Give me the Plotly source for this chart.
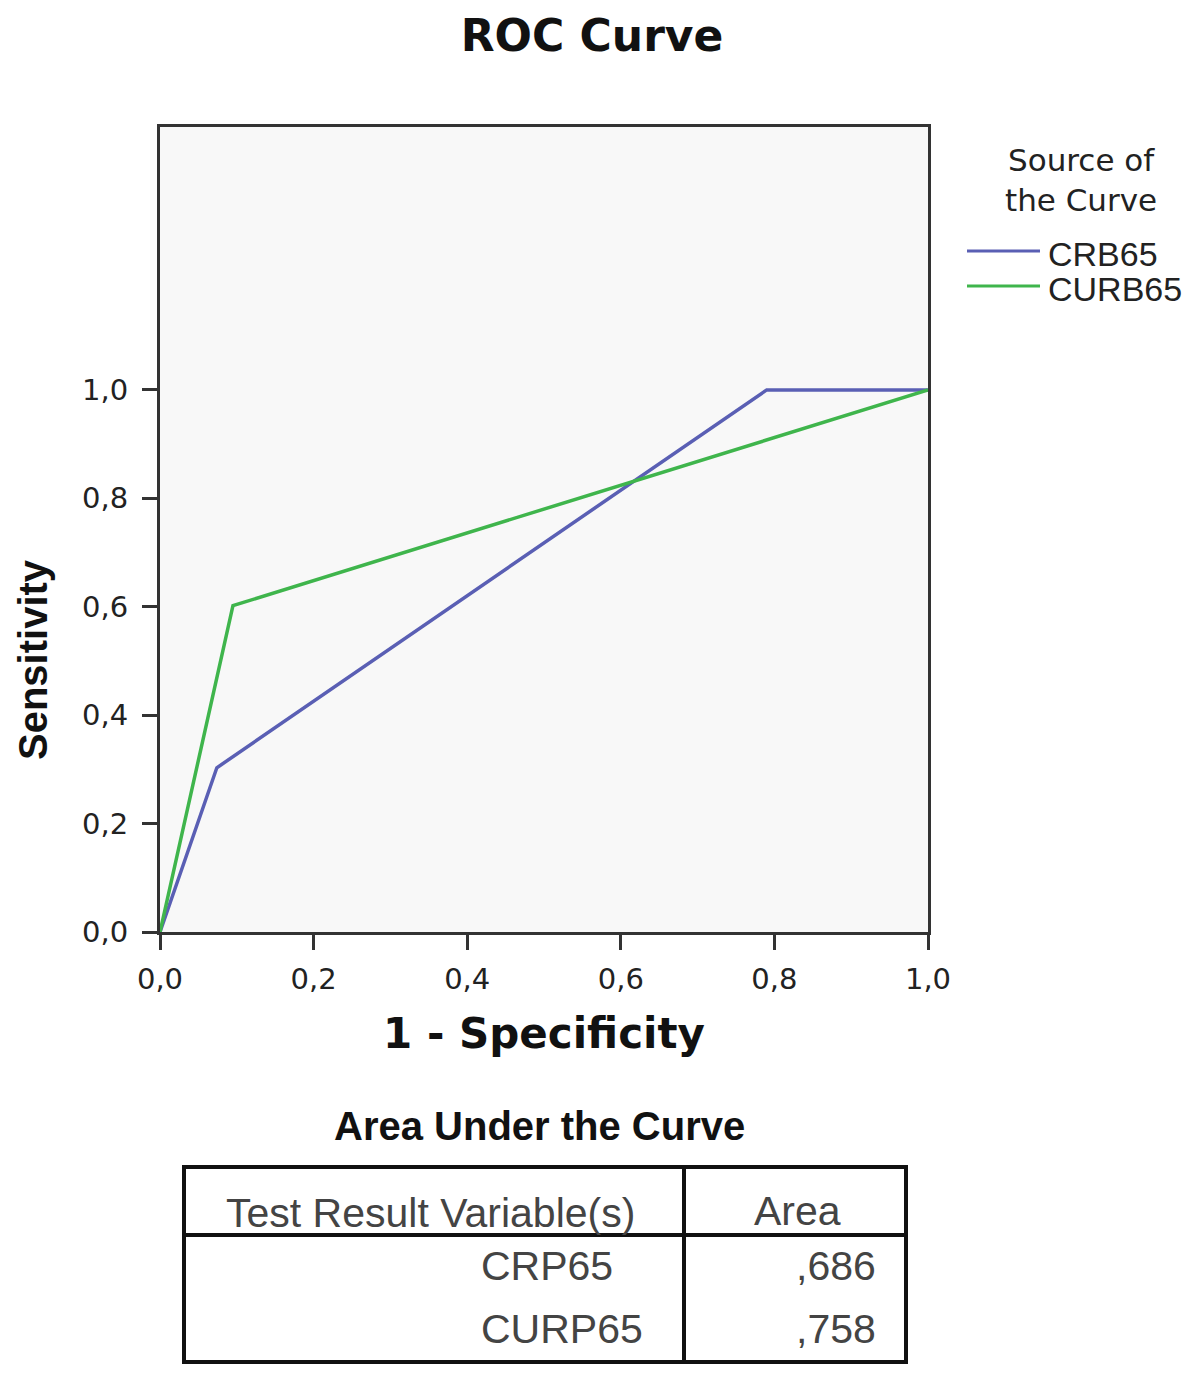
import plotly.graph_objects as go

# ROC points
series_names = ["CRB65", "CURB65"]
crb65_fpr = [0.0, 0.074, 0.79, 1.0]
crb65_tpr = [0.0, 0.303, 1.0, 1.0]
curb65_fpr = [0.0, 0.095, 1.0]
curb65_tpr = [0.0, 0.602, 1.0]
series_colors = ["#5a5fb4", "#3fb54c"]

tick_values = [0.0, 0.2, 0.4, 0.6, 0.8, 1.0]

legend_title_lines = ["Source of", "the Curve"]

# AUC table
table_title = "Area Under the Curve"
table_headers = ["Test Result Variable(s)", "Area"]
table_variables = ["CRP65", "CURP65"]
table_areas = [0.686, 0.758]

# the page body keeps its default 8px margin, so the figure is laid out
# in page pixels shifted by OFF
OFF = 8
W, H = 1200 - 2 * OFF, 1373 - 2 * OFF
L, R, T, B = 160 - OFF, 928 - OFF, 127 - OFF, 932 - OFF


def px(x):
    return (x - OFF - L) / (R - L)


def py(y):
    return (B - (y - OFF)) / (B - T)


def spss_num(v):
    return ("%.3f" % v).lstrip("0").replace(".", ",")


fig = go.Figure()
for name, xs, ys, color in zip(
    series_names,
    [crb65_fpr, curb65_fpr],
    [crb65_tpr, curb65_tpr],
    series_colors,
):
    fig.add_trace(
        go.Scatter(
            x=xs,
            y=ys,
            mode="lines",
            name=name,
            line={"color": color, "width": 3.5},
            showlegend=False,
        )
    )

axis_common = dict(
    showgrid=False,
    zeroline=False,
    showline=True,
    linecolor="#333333",
    linewidth=3,
    mirror=True,
    ticks="outside",
    ticklen=15,
    tickwidth=3,
    tickcolor="#333333",
    tickvals=tick_values,
    tickformat=".1f",
    tickfont={"family": "DejaVu Sans", "size": 29, "color": "#222222"},
)
fig.update_xaxes(
    range=[0, 1],
    ticklabelstandoff=4,
    title={
        "text": "<b>1 - Specificity</b>",
        "font": {"family": "DejaVu Sans", "size": 42, "color": "#111111"},
        "standoff": 24,
    },
    **axis_common,
)
fig.update_yaxes(
    range=[0, 1.485],
    ticklabelstandoff=8,
    **axis_common,
)

annotations = [
    dict(
        text="<b>Sensitivity</b>",
        x=px(33), y=py(660), xref="paper", yref="paper",
        textangle=-90, showarrow=False, xanchor="center", yanchor="middle",
        font={"family": "Liberation Sans Narrow, Liberation Sans", "size": 40, "color": "#111111"},
    ),
    dict(
        text="<br>".join(legend_title_lines), x=px(1081), y=py(180),
        xref="paper", yref="paper",
        showarrow=False, xanchor="center", yanchor="middle",
        font={"family": "DejaVu Sans", "size": 31, "color": "#222222"},
    ),
]
shapes = []

# legend drawn by hand so the sample lines match the reference length
legend_y = [251, 286]
for name, color, yy in zip(series_names, series_colors, legend_y):
    shapes.append(dict(
        type="line", xref="paper", yref="paper",
        x0=px(967), x1=px(1040), y0=py(yy), y1=py(yy),
        line={"color": color, "width": 3},
    ))
    annotations.append(dict(
        text=name, x=px(1046), y=py(yy + 3), xref="paper", yref="paper",
        showarrow=False, xanchor="left", yanchor="middle",
        font={"family": "Liberation Sans", "size": 34, "color": "#222222"},
    ))

# AUC table under the chart
annotations.append(dict(
    text="<b>%s</b>" % table_title, x=px(539), y=py(1126), xref="paper", yref="paper",
    showarrow=False, xanchor="center", yanchor="middle",
    font={"family": "Liberation Sans", "size": 40, "color": "#111111"},
))
tab_font = {"family": "Liberation Sans", "size": 41, "color": "#444444"}
annotations.append(dict(
    text=table_headers[0], x=px(430), y=py(1213), xref="paper", yref="paper",
    showarrow=False, xanchor="center", yanchor="middle", font=tab_font,
))
annotations.append(dict(
    text=table_headers[1], x=px(797), y=py(1211), xref="paper", yref="paper",
    showarrow=False, xanchor="center", yanchor="middle", font=tab_font,
))
for i, (var, area) in enumerate(zip(table_variables, table_areas)):
    yy = 1266 + i * 63
    annotations.append(dict(
        text=var, x=px(479), y=py(yy), xref="paper", yref="paper",
        showarrow=False, xanchor="left", yanchor="middle", font=tab_font,
    ))
    annotations.append(dict(
        text=spss_num(area), x=px(878), y=py(yy), xref="paper", yref="paper",
        showarrow=False, xanchor="right", yanchor="middle", font=tab_font,
    ))

border = {"color": "#111111", "width": 4}
shapes.append(dict(type="rect", xref="paper", yref="paper",
                   x0=px(184), x1=px(906), y0=py(1167), y1=py(1362), line=border))
shapes.append(dict(type="line", xref="paper", yref="paper",
                   x0=px(184), x1=px(906), y0=py(1235), y1=py(1235), line=border))
shapes.append(dict(type="line", xref="paper", yref="paper",
                   x0=px(684), x1=px(684), y0=py(1167), y1=py(1362), line=border))

fig.update_layout(
    width=W,
    height=H,
    separators=",.",
    paper_bgcolor="white",
    plot_bgcolor="#f8f8f8",
    margin={"l": L, "r": W - R, "t": T, "b": H - B, "pad": 0},
    title={
        "text": "<b>ROC Curve</b>",
        "x": (592 - OFF) / W,
        "xanchor": "center",
        "y": 1 - (36 - OFF) / H,
        "yanchor": "middle",
        "font": {"family": "DejaVu Sans", "size": 44, "color": "#111111"},
    },
    annotations=annotations,
    shapes=shapes,
    showlegend=False,
)

fig.write_html("out.html")
